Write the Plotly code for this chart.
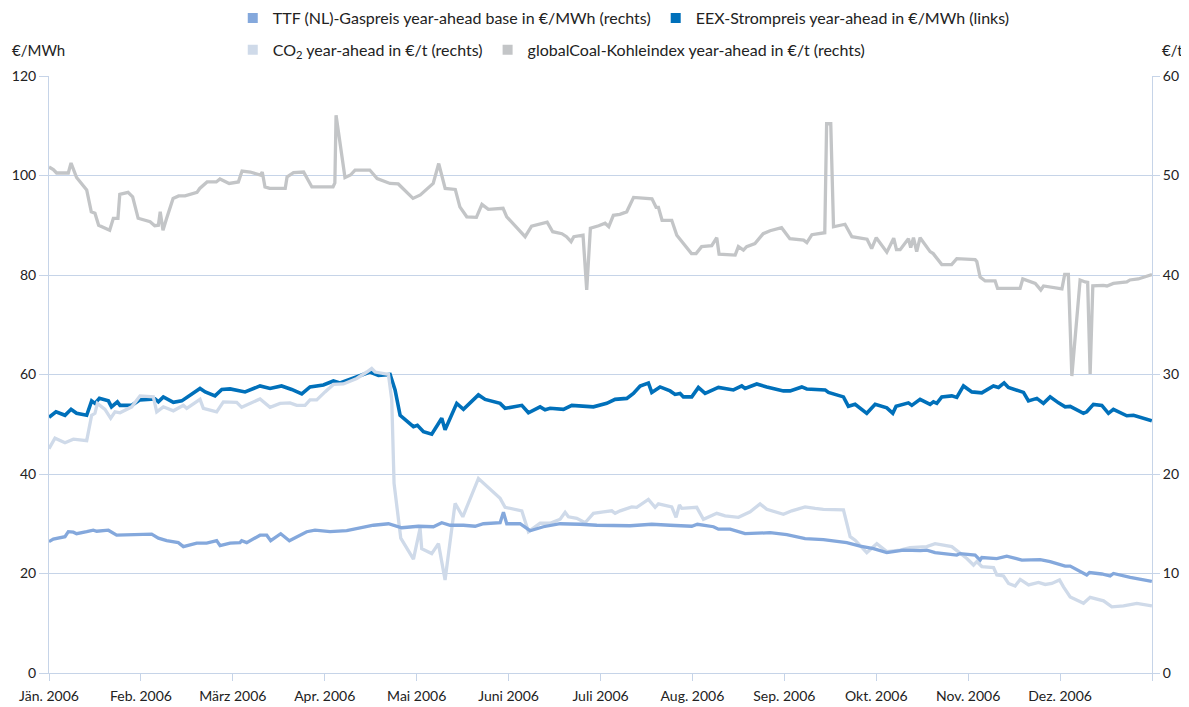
import plotly.graph_objects as go

# ---------------- data (time in months since 1 Jan 2006) ----------------
month_labels = ["Jän. 2006", "Feb. 2006", "März 2006", "Apr. 2006", "Mai 2006", "Juni 2006",
                "Juli 2006", "Aug. 2006", "Sep. 2006", "Okt. 2006", "Nov. 2006", "Dez. 2006"]

# globalCoal (€/t, right axis)
coal_t = [0.0, 0.047, 0.083, 0.21, 0.24, 0.30, 0.41, 0.46, 0.50, 0.54, 0.66, 0.70, 0.75, 0.77, 0.86, 0.91,
          0.97, 1.10, 1.15, 1.19, 1.21, 1.24, 1.28, 1.35, 1.41, 1.48, 1.61, 1.64, 1.72, 1.82, 1.86, 1.96,
          2.06, 2.10, 2.19, 2.30, 2.32, 2.35, 2.40, 2.57, 2.59, 2.66, 2.77, 2.86, 3.09, 3.11, 3.123, 3.22,
          3.28, 3.33, 3.49, 3.57, 3.71, 3.80, 3.96, 4.04, 4.18, 4.24, 4.31, 4.42, 4.47, 4.545, 4.65, 4.71,
          4.78, 4.94, 4.98, 5.09, 5.18, 5.25, 5.42, 5.48, 5.58, 5.63, 5.68, 5.71, 5.81, 5.85, 5.89, 5.98,
          6.05, 6.09, 6.14, 6.21, 6.285, 6.36, 6.56, 6.605, 6.63, 6.67, 6.775, 6.83, 6.99, 7.04, 7.10, 7.21,
          7.265, 7.29, 7.465, 7.50, 7.555, 7.59, 7.68, 7.77, 7.845, 7.97, 8.06, 8.21, 8.245, 8.30, 8.44,
          8.46, 8.505, 8.535, 8.66, 8.735, 8.90, 8.95, 9.00, 9.115, 9.19, 9.22, 9.26, 9.35, 9.375, 9.405,
          9.44, 9.477, 9.586, 9.62, 9.713, 9.82, 9.876, 10.076, 10.094, 10.13, 10.185, 10.293, 10.32,
          10.565, 10.594, 10.73, 10.79, 10.82, 11.02, 11.05, 11.09, 11.128, 11.218, 11.273, 11.30, 11.327,
          11.356, 11.47, 11.51, 11.58, 11.726, 11.76, 11.85, 12.0]
coal_val = [50.85, 50.6, 50.25, 50.25, 51.25, 49.8, 48.55, 46.35, 46.2, 45.0, 44.5, 45.7, 45.7, 48.1, 48.3, 47.85,
            45.7, 45.35, 44.95, 45.0, 46.35, 44.5, 45.7, 47.7, 47.95, 47.95, 48.3, 48.7, 49.35, 49.35, 49.65, 49.2,
            49.35, 50.45, 50.35, 50.05, 50.35, 48.85, 48.7, 48.7, 49.85, 50.3, 50.35, 48.85, 48.85, 49.25, 56.05, 49.8,
            50.05, 50.55, 50.55, 49.7, 49.2, 49.15, 47.7, 48.05, 49.2, 51.2, 48.7, 48.6, 46.85, 45.85, 45.8, 47.1,
            46.6, 46.7, 45.85, 44.7, 43.85, 44.9, 45.3, 44.35, 44.15, 43.85, 43.35, 43.85, 44.0, 38.5, 44.7, 44.95,
            45.2, 44.85, 46.0, 46.1, 46.35, 47.8, 47.65, 46.8, 46.8, 45.5, 45.5, 44.0, 42.15, 42.15, 42.85, 42.95,
            43.75, 42.1, 42.0, 42.85, 42.5, 42.85, 43.15, 44.15, 44.45, 44.75, 43.65, 43.5, 43.25, 44.05, 44.25,
            55.2, 55.2, 44.85, 45.1, 43.85, 43.6, 42.65, 43.75, 42.3, 43.7, 42.55, 42.55, 43.65, 42.75, 43.75,
            42.35, 43.75, 42.35, 42.15, 41.05, 41.05, 41.65, 41.55, 41.35, 39.8, 39.4, 39.4, 38.65,
            38.65, 39.6, 39.15, 38.5, 38.9, 38.6, 40.05, 40.05, 29.85, 39.5, 39.3, 39.25, 30.05,
            38.9, 38.95, 38.9, 39.15, 39.3, 39.5, 39.6, 40.05]

# EEX power (€/MWh, left axis)
eex_t = [0.0, 0.076, 0.174, 0.24, 0.30, 0.41, 0.464, 0.50, 0.548, 0.646, 0.68, 0.744, 0.773, 0.90, 0.99, 1.153,
         1.19, 1.244, 1.353, 1.444, 1.643, 1.70, 1.806, 1.88, 1.97, 2.133, 2.296, 2.405, 2.53, 2.64, 2.75, 2.84,
         2.985, 3.094, 3.166, 3.221, 3.35, 3.493, 3.584, 3.711, 3.765, 3.82, 3.965, 4.008, 4.074, 4.164, 4.273,
         4.309, 4.436, 4.509, 4.672, 4.745, 4.908, 4.962, 5.144, 5.216, 5.343, 5.397, 5.452, 5.597, 5.688, 5.923,
         6.068, 6.159, 6.286, 6.358, 6.431, 6.521, 6.558, 6.648, 6.757, 6.811, 6.866, 6.902, 6.993, 7.065, 7.138,
         7.283, 7.446, 7.537, 7.573, 7.70, 7.809, 7.99, 8.063, 8.19, 8.244, 8.444, 8.48, 8.643, 8.697, 8.77,
         8.897, 8.988, 9.115, 9.18, 9.216, 9.35, 9.387, 9.477, 9.586, 9.622, 9.659, 9.713, 9.822, 9.876, 9.949,
         10.04, 10.148, 10.275, 10.33, 10.391, 10.438, 10.602, 10.656, 10.747, 10.819, 10.892, 10.983, 11.055,
         11.11, 11.254, 11.29, 11.363, 11.454, 11.526, 11.58, 11.726, 11.799, 11.998]
eex_val = [51.4, 52.5, 51.8, 53.0, 52.2, 51.8, 54.7, 54.2, 55.2, 54.7, 53.5, 54.5, 53.8, 53.8, 54.9, 55.1,
           54.5, 55.5, 54.4, 54.7, 57.2, 56.5, 55.7, 57.0, 57.1, 56.5, 57.7, 57.2, 57.7, 57.0, 56.1, 57.5,
           57.9, 58.7, 58.3, 58.7, 59.5, 60.5, 59.8, 60.0, 56.9, 51.8, 49.5, 49.8, 48.5, 48.0, 51.2,
           48.9, 54.2, 53.0, 55.9, 55.0, 54.2, 53.2, 53.8, 52.3, 53.5, 52.9, 53.2, 53.0, 53.8, 53.5,
           54.2, 55.0, 55.2, 56.2, 57.7, 58.3, 56.4, 57.5, 56.7, 56.0, 56.2, 55.5, 55.5, 57.4, 56.2,
           57.4, 56.9, 57.7, 57.2, 58.1, 57.5, 56.7, 56.7, 57.5, 57.1, 56.9, 56.4, 55.5, 53.6, 54.0,
           52.2, 54.0, 53.3, 52.2, 53.6, 54.3, 53.8, 55.0, 54.0, 54.5, 54.2, 55.5, 55.7, 55.4, 57.7,
           56.5, 56.3, 57.7, 57.4, 58.3, 57.4, 56.4, 54.7, 55.2, 54.2, 55.5, 54.3, 53.5,
           53.6, 52.2, 52.5, 54.0, 53.8, 52.2, 53.0, 51.7, 51.8, 50.7]

# CO2 (€/t, right axis)
co2_t = [0.0, 0.065, 0.174, 0.265, 0.41, 0.464, 0.50, 0.526, 0.609, 0.671, 0.718, 0.773, 0.90, 0.99, 1.135,
         1.172, 1.244, 1.353, 1.462, 1.498, 1.643, 1.679, 1.824, 1.897, 2.042, 2.096, 2.296, 2.405, 2.514,
         2.622, 2.695, 2.786, 2.84, 2.913, 3.003, 3.094, 3.203, 3.348, 3.457, 3.511, 3.548, 3.693, 3.729,
         3.754, 3.827, 3.965, 4.037, 4.055, 4.164, 4.237, 4.309, 4.418, 4.502, 4.672, 4.908, 4.962, 5.144,
         5.216, 5.343, 5.452, 5.561, 5.615, 5.651, 5.742, 5.833, 5.923, 6.032, 6.123, 6.159, 6.214, 6.34,
         6.394, 6.521, 6.594, 6.63, 6.775, 6.822, 6.859, 6.884, 7.047, 7.12, 7.265, 7.356, 7.501, 7.628,
         7.736, 7.809, 7.99, 8.081, 8.226, 8.335, 8.425, 8.643, 8.716, 8.77, 8.897, 9.006, 9.115, 9.26,
         9.368, 9.55, 9.64, 9.822, 9.894, 9.986, 10.058, 10.094, 10.149, 10.276, 10.312, 10.385, 10.439,
         10.511, 10.566, 10.657, 10.765, 10.838, 10.91, 10.994, 11.037, 11.11, 11.255, 11.327, 11.473,
         11.563, 11.69, 11.835, 11.999]
co2_val = [22.55, 23.6, 23.15, 23.5, 23.35, 25.9, 26.1, 27.1, 26.5, 25.6, 26.25, 26.15, 26.75, 27.85, 27.75,
           26.25, 26.75, 26.35, 26.9, 26.6, 27.5, 26.6, 26.25, 27.25, 27.2, 26.7, 27.55, 26.7, 27.1,
           27.15, 26.9, 26.9, 27.45, 27.45, 28.25, 29.0, 29.05, 29.6, 30.25, 30.6, 30.25, 30.0, 27.45,
           19.05, 13.55, 11.45, 14.55, 12.5, 12.0, 13.0, 9.35, 17.05, 15.7, 19.55, 17.55, 16.65, 16.3,
           14.2, 15.05, 15.05, 15.45, 16.15, 15.7, 15.55, 15.1, 16.05, 16.2, 16.3, 16.05, 16.3, 16.7,
           16.65, 17.45, 16.65, 17.0, 16.7, 15.65, 16.9, 16.55, 16.65, 15.45, 16.05, 15.8, 15.65, 16.2,
           17.0, 16.45, 15.95, 16.3, 16.7, 16.55, 16.45, 16.4, 13.7, 13.35, 12.1, 13.0, 12.2, 12.35,
           12.6, 12.7, 13.0, 12.7, 12.2, 11.5, 10.85, 11.2, 10.7, 10.6, 9.85, 9.75, 9.0,
           8.75, 9.4, 8.85, 9.1, 8.9, 9.0, 9.35, 8.65, 7.65, 7.0, 7.6, 7.25,
           6.65, 6.75, 7.0, 6.75]

# TTF gas (€/MWh, right axis)
ttf_t = [0.0, 0.047, 0.174, 0.21, 0.265, 0.30, 0.41, 0.482, 0.519, 0.646, 0.736, 0.99, 1.117, 1.19, 1.28,
         1.407, 1.462, 1.607, 1.716, 1.824, 1.861, 1.97, 2.078, 2.096, 2.151, 2.296, 2.369, 2.412, 2.521,
         2.615, 2.804, 2.894, 3.058, 3.239, 3.384, 3.53, 3.693, 3.838, 4.019, 4.182, 4.273, 4.364, 4.509,
         4.636, 4.726, 4.908, 4.944, 4.98, 5.125, 5.234, 5.379, 5.561, 5.778, 5.96, 6.322, 6.558, 6.757,
         6.993, 7.054, 7.229, 7.283, 7.41, 7.573, 7.845, 8.027, 8.226, 8.425, 8.498, 8.679, 8.825, 8.97,
         9.115, 9.296, 9.478, 9.55, 9.64, 9.876, 9.912, 10.076, 10.13, 10.148, 10.311, 10.42, 10.584,
         10.783, 10.892, 11.055, 11.11, 11.29, 11.32, 11.454, 11.544, 11.58, 11.763, 11.998]
ttf_val = [13.2, 13.45, 13.7, 14.2, 14.15, 14.0, 14.2, 14.35, 14.25, 14.35, 13.85, 13.95, 13.95, 13.55, 13.3,
           13.1, 12.7, 13.05, 13.05, 13.3, 12.8, 13.05, 13.1, 13.3, 13.1, 13.85, 13.85, 13.3, 14.0,
           13.3, 14.2, 14.35, 14.2, 14.3, 14.6, 14.85, 15.0, 14.6, 14.75, 14.7, 15.1, 14.85, 14.85,
           14.75, 15.0, 15.1, 16.15, 15.0, 15.0, 14.3, 14.7, 15.0, 14.95, 14.85, 14.8, 14.95, 14.85,
           14.75, 14.95, 14.7, 14.45, 14.45, 14.0, 14.1, 13.9, 13.5, 13.4, 13.3, 13.1, 12.75, 12.5,
           12.1, 12.35, 12.3, 12.35, 12.1, 11.85, 12.0, 11.85, 11.35, 11.6, 11.5, 11.75, 11.35,
           11.4, 11.2, 10.75, 10.75, 9.85, 10.1, 9.95, 9.75, 10.0, 9.6, 9.2]

series_names = ["TTF (NL)-Gaspreis year-ahead base in €/MWh (rechts)",
                "EEX-Strompreis year-ahead in €/MWh (links)",
                "CO<sub>2</sub> year-ahead in €/t (rechts)",
                "globalCoal-Kohleindex year-ahead in €/t (rechts)"]

# ---------------- styling ----------------
C_TTF = "#84A8DC"
C_EEX = "#0070BA"
C_CO2 = "#CFDAE9"
C_COAL = "#C3C5C7"
GRID = "#C6D4E8"
FONT = "Lato"
TXT = "#222222"

fig = go.Figure()

fig.add_trace(go.Scatter(x=co2_t, y=co2_val, mode="lines", yaxis="y2", showlegend=False,
                         line=dict(color=C_CO2, width=3.3), name=series_names[2]))
fig.add_trace(go.Scatter(x=ttf_t, y=ttf_val, mode="lines", yaxis="y2", showlegend=False,
                         line=dict(color=C_TTF, width=3.3), name=series_names[0]))
fig.add_trace(go.Scatter(x=eex_t, y=eex_val, mode="lines", yaxis="y", showlegend=False,
                         line=dict(color=C_EEX, width=3.6), name=series_names[1]))
fig.add_trace(go.Scatter(x=coal_t, y=coal_val, mode="lines", yaxis="y2", showlegend=False,
                         line=dict(color=C_COAL, width=3.3), name=series_names[3]))

# legend entries (square swatches)
for name, col, leg in [(series_names[0], C_TTF, "legend"), (series_names[1], C_EEX, "legend"),
                       (series_names[2], C_CO2, "legend2"), (series_names[3], C_COAL, "legend2")]:
    fig.add_trace(go.Scatter(x=[None], y=[None], mode="markers", name=name, legend=leg, yaxis="y",
                             marker=dict(symbol="square", size=10, color=col)))

legend_common = dict(orientation="h", xanchor="left", yanchor="middle", bgcolor="rgba(0,0,0,0)",
                     font=dict(family=FONT, size=16, color=TXT), itemclick=False, itemdoubleclick=False)

# the page body adds an 8px offset; the figure is sized so that the plot area lands on the reference
fig.update_layout(
    width=1181, height=699,
    margin=dict(l=41, r=37, t=68, b=34, autoexpand=False),
    paper_bgcolor="white", plot_bgcolor="white",
    font=dict(family=FONT, size=14, color=TXT),
    xaxis=dict(range=[0, 12], tickmode="array", tickvals=list(range(12)), ticktext=month_labels,
               showgrid=False, zeroline=False, showline=True, linecolor=GRID, linewidth=1,
               ticks="outside", ticklen=7, tickcolor=GRID, ticklabelstandoff=3,
               minor=dict(tickmode="array", tickvals=[12], ticks="outside", ticklen=7, tickcolor=GRID,
                          showgrid=False),
               tickfont=dict(family=FONT, size=14, color=TXT)),
    yaxis=dict(range=[0, 120], tickvals=[0, 20, 40, 60, 80, 100, 120], showgrid=True, gridcolor=GRID,
               gridwidth=1, zeroline=False, showline=True, linecolor=GRID, ticks="outside", ticklen=9,
               tickcolor=GRID, tickfont=dict(family=FONT, size=14, color=TXT)),
    yaxis2=dict(range=[0, 60], tickvals=[0, 10, 20, 30, 40, 50, 60], overlaying="y", side="right",
                showgrid=False, zeroline=False, showline=True, linecolor=GRID, ticks="outside", ticklen=7,
                tickcolor=GRID, tickfont=dict(family=FONT, size=14, color=TXT)),
    legend=dict(x=0.1666, y=1.097, **legend_common),
    legend2=dict(x=0.1666, y=1.044, **legend_common),
    annotations=[
        dict(text="€/MWh", xref="paper", yref="paper", x=-0.0354, y=1.0436, xanchor="left", yanchor="middle",
             showarrow=False, font=dict(family=FONT, size=15, color=TXT)),
        dict(text="€/t", xref="paper", yref="paper", x=1.007, y=1.0436, xanchor="left", yanchor="middle",
             showarrow=False, font=dict(family=FONT, size=15, color=TXT)),
    ],
)

fig.write_html("out.html")
